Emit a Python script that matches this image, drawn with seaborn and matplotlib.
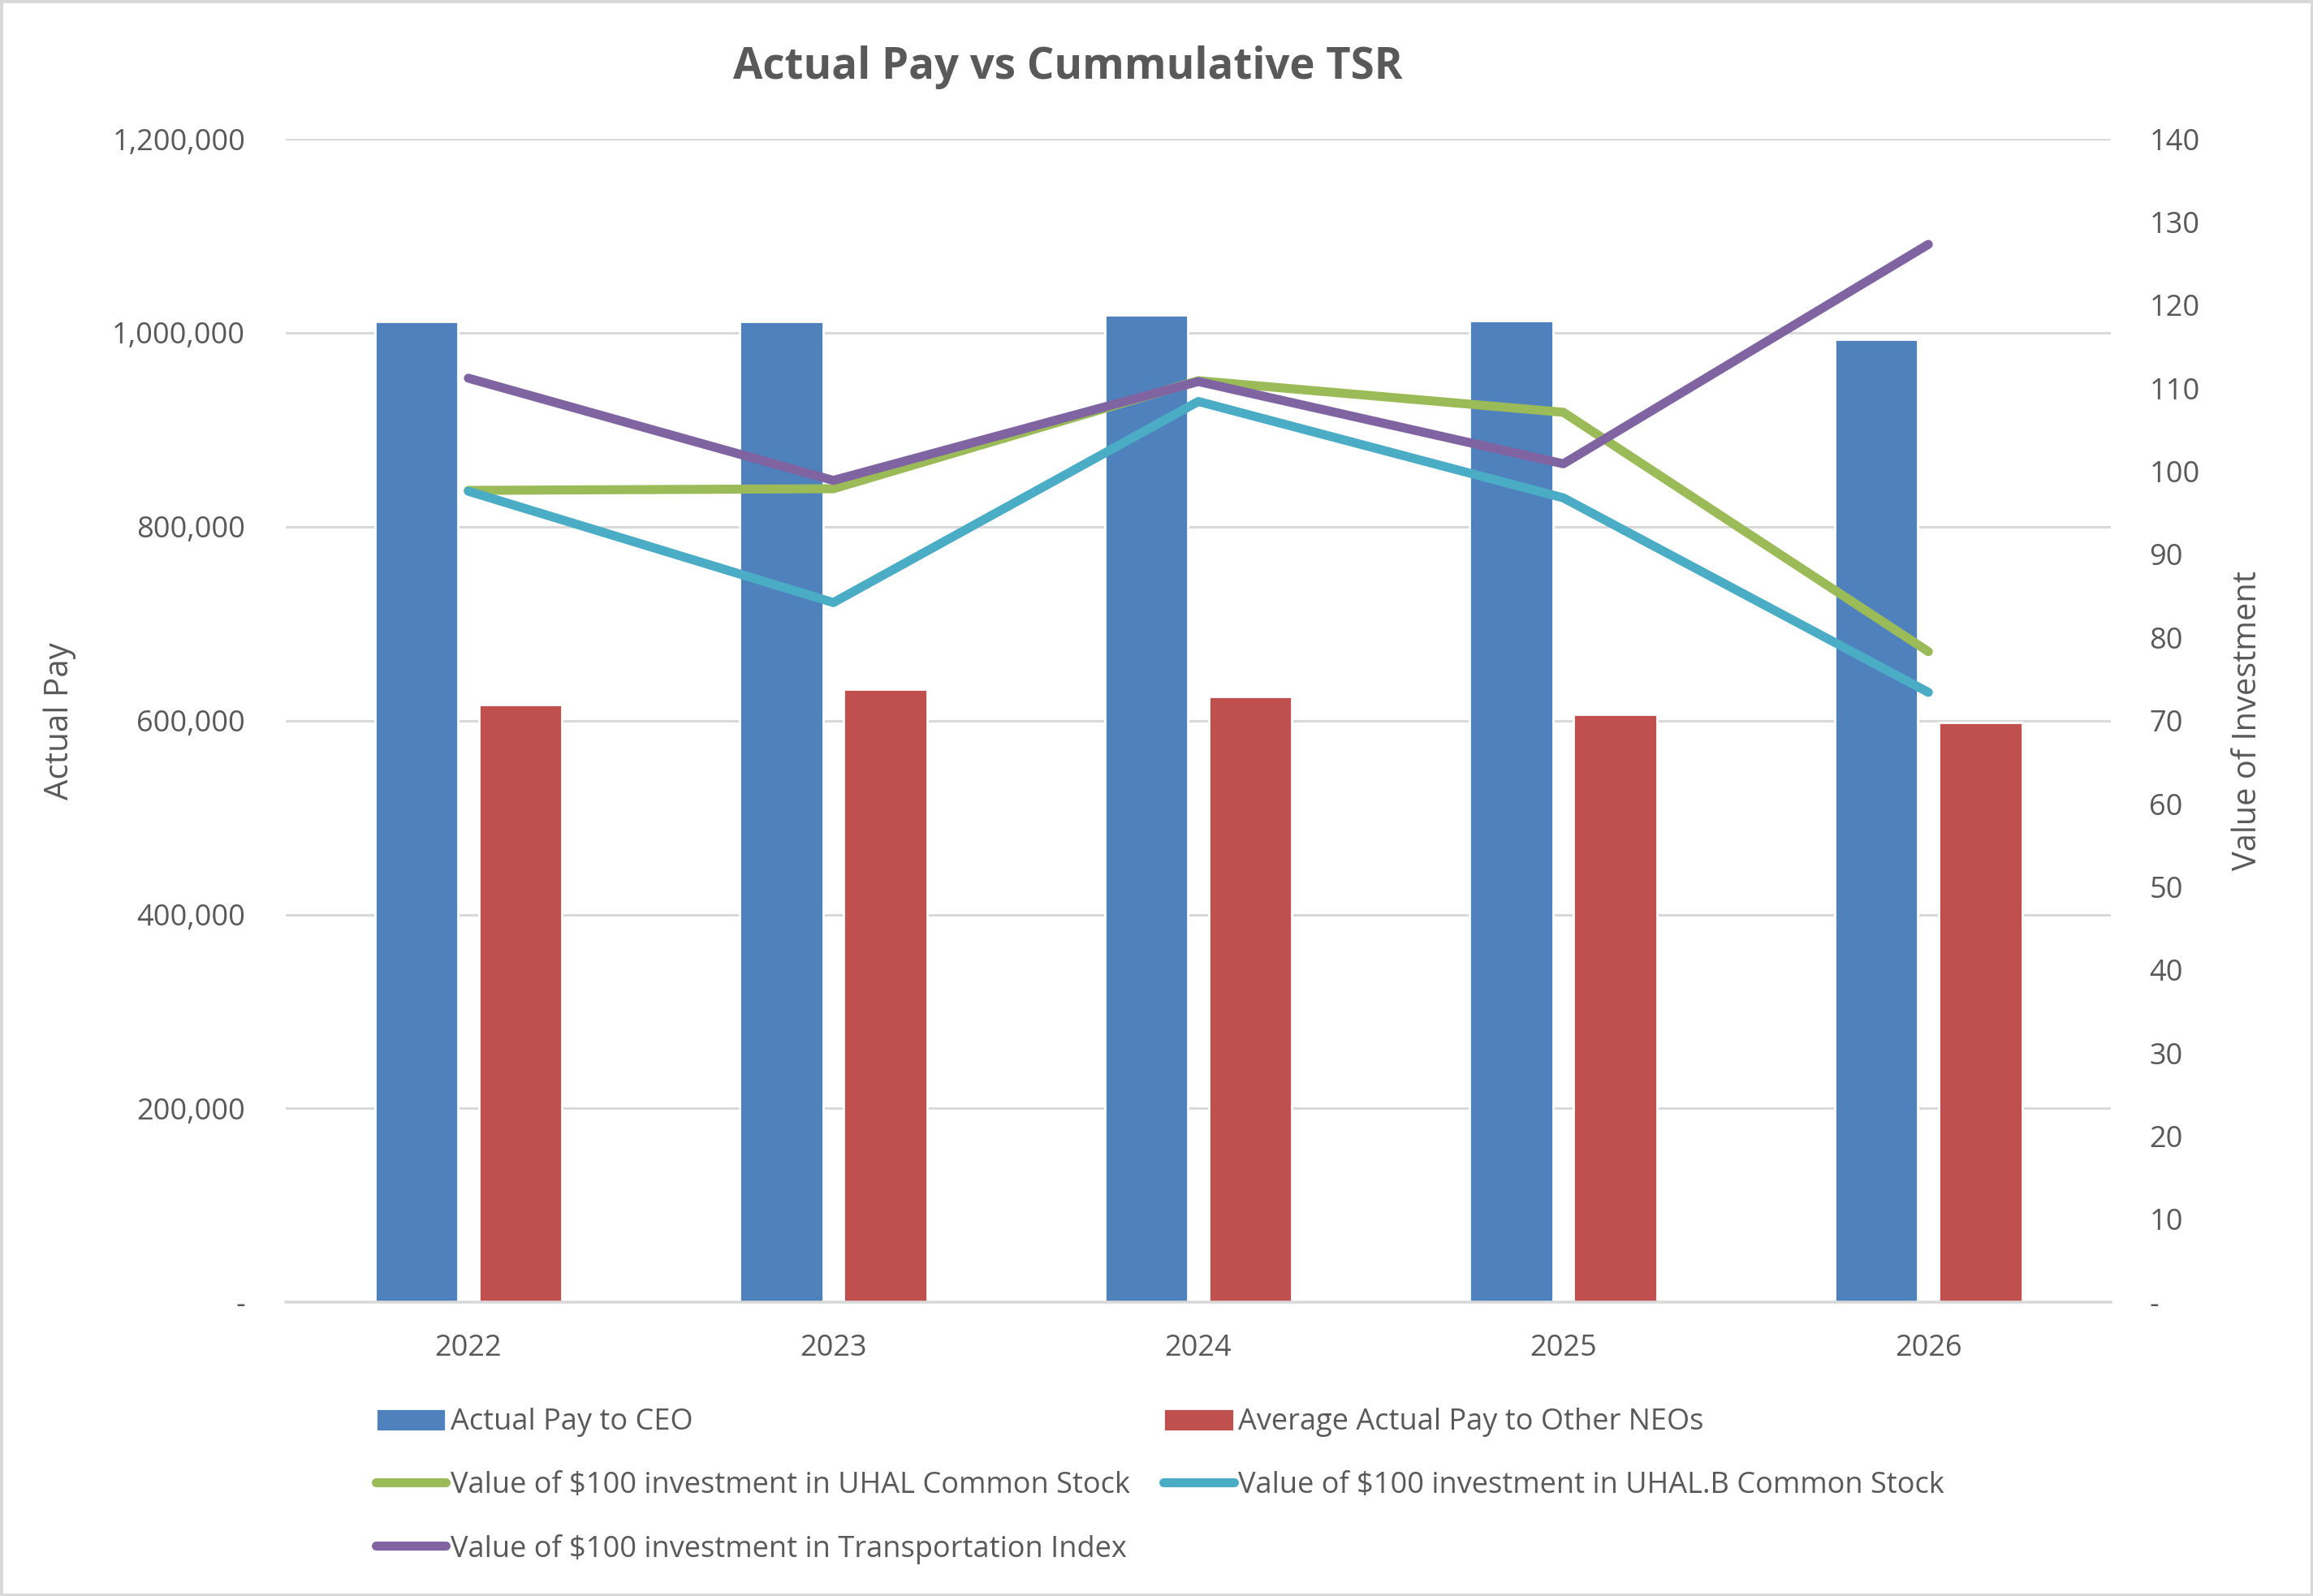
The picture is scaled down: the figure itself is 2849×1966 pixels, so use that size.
import pandas as pd
import matplotlib.pyplot as plt
import seaborn as sns
from matplotlib.patches import Patch
from matplotlib.lines import Line2D
from matplotlib.ticker import FuncFormatter, MultipleLocator

# --------------------------
# Data
# --------------------------
years = ["2022", "2023", "2024", "2025", "2026"]
ceo_pay = [1011800, 1011800, 1018500, 1012500, 993400]
neo_pay = [616600, 632600, 624500, 606000, 598100]
uhal = [97.7, 97.9, 110.9, 107.1, 78.3]
uhal_b = [97.6, 84.2, 108.4, 96.8, 73.4]
transport = [111.2, 98.9, 110.8, 100.9, 127.3]

bar_names = ["Actual Pay to CEO", "Average Actual Pay to Other NEOs"]
line_names = [
    "Value of $100 investment in UHAL Common Stock",
    "Value of $100 investment in UHAL.B Common Stock",
    "Value of $100 investment in Transportation Index",
]

bar_colors = ["#4F81BD", "#C0504D"]
line_colors = ["#9BBB59", "#4BACC6", "#8064A2"]
text_color = "#595959"
grid_color = "#D9D9D9"

df_bars = pd.DataFrame({
    "Year": years * 2,
    "Pay": ceo_pay + neo_pay,
    "Series": [bar_names[0]] * 5 + [bar_names[1]] * 5,
})
df_lines = pd.DataFrame({
    "pos": list(range(5)) * 3,
    "Value": uhal + uhal_b + transport,
    "Series": [line_names[0]] * 5 + [line_names[1]] * 5 + [line_names[2]] * 5,
})

sns.set_style("white")
plt.rcParams["font.family"] = ["Open Sans", "DejaVu Sans"]

fig = plt.figure(figsize=(14.245, 9.83), dpi=200)
fig.patch.set_edgecolor(grid_color)
fig.patch.set_linewidth(2.5)
ax = fig.add_axes([0.1236, 0.184, 0.789, 0.729])

# --------------------------
# Bars (left axis)
# --------------------------
sns.barplot(
    data=df_bars, x="Year", y="Pay", hue="Series",
    palette=bar_colors, saturation=1, width=0.57, gap=0.2,
    legend=False, ax=ax
)
ax.set_ylim(0, 1200000)
ax.set_xlim(-0.5, 4.5)
ax.yaxis.set_major_locator(MultipleLocator(200000))
ax.yaxis.set_major_formatter(FuncFormatter(lambda v, p: "-" if v == 0 else f"{v:,.0f}"))
ax.grid(axis="y", color=grid_color, lw=1.1)
ax.set_axisbelow(True)
ax.set_xlabel("")
ax.set_ylabel("Actual Pay", fontsize=14.5, color=text_color, labelpad=16)
ax.tick_params(axis="y", length=0, pad=18, labelsize=13, labelcolor=text_color)
ax.tick_params(axis="x", length=0, pad=14, labelsize=13, labelcolor=text_color)
for s in ["top", "left", "right"]:
    ax.spines[s].set_visible(False)
ax.spines["bottom"].set_color(grid_color)
ax.spines["bottom"].set_linewidth(1.3)

# --------------------------
# Lines (right axis)
# --------------------------
ax2 = ax.twinx()
sns.lineplot(
    data=df_lines, x="pos", y="Value", hue="Series",
    palette=line_colors, linewidth=4, legend=False, ax=ax2
)
ax2.set_ylim(0, 140)
ax2.set_xlim(-0.5, 4.5)
ax2.yaxis.set_major_locator(MultipleLocator(10))
ax2.yaxis.set_major_formatter(FuncFormatter(lambda v, p: "-" if v == 0 else f"{v:.0f}"))
ax2.set_ylabel("Value of Investment", fontsize=14.3, color=text_color, labelpad=14)
ax2.tick_params(axis="y", length=0, pad=17, labelsize=13, labelcolor=text_color)
for s in ax2.spines.values():
    s.set_visible(False)

fig.text(0.4617, 0.958, "Actual Pay vs Cummulative TSR", fontsize=19,
         fontweight="bold", color=text_color, ha="center", va="center")

# --------------------------
# Legend
# --------------------------
h_ceo = Patch(facecolor=bar_colors[0], label=bar_names[0])
h_neo = Patch(facecolor=bar_colors[1], label=bar_names[1])
h_l = [Line2D([0], [0], color=c, lw=4, solid_capstyle="round", label=n)
       for c, n in zip(line_colors, line_names)]
handles = [h_ceo, h_l[0], h_l[2], h_neo, h_l[1]]
fig.legend(
    handles=handles, loc="upper left", bbox_to_anchor=(0.151, 0.1343),
    ncol=2, frameon=False, fontsize=13, labelcolor=text_color,
    handlelength=2.4, handleheight=0.8, handletextpad=0.15,
    columnspacing=1.15, labelspacing=1.15
)

fig.savefig("out.png", dpi=200)
